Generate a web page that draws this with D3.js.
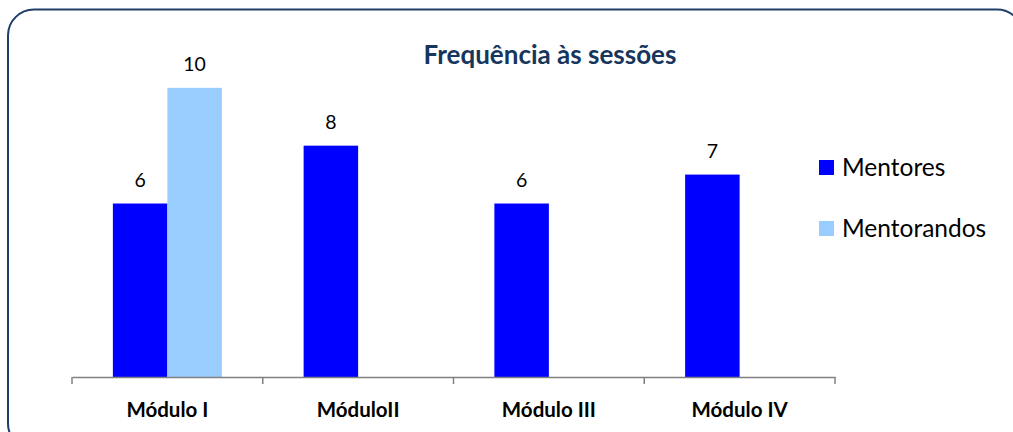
<!DOCTYPE html>
<html>
<head>
<meta charset="utf-8">
<script src="https://cdn.jsdelivr.net/npm/d3@7"></script>
<style>
  body { margin: 0; background: #fff; }
  svg { display: block; font-family: Lato, "Open Sans", sans-serif; }
</style>
</head>
<body>
<div id="chart"></div>
<script>
let categories = ["Módulo I", "MóduloII", "Módulo III", "Módulo IV"];
let seriesNames = ["Mentores", "Mentorandos"];
let mentores = [6, 8, 6, 7];
let mentorandos = [10, null, null, null];
let colors = ["#0000ff", "#99ccff"];

let width = 1013, height = 432;

let svg = d3.select("#chart").append("svg")
  .attr("width", width)
  .attr("height", height);

// rounded frame, runs off the right and bottom edge
svg.append("rect")
  .attr("x", 8).attr("y", 9.5)
  .attr("width", 1015).attr("height", 440)
  .attr("rx", 26).attr("ry", 26)
  .attr("fill", "none")
  .attr("stroke", "#1f3f66")
  .attr("stroke-width", 2);

let x = d3.scaleBand()
  .domain(categories)
  .range([72, 835])
  .paddingInner(0)
  .paddingOuter(0);

let x1 = d3.scaleBand()
  .domain(seriesNames)
  .range([0, x.bandwidth()])
  .paddingOuter(0.75)
  .paddingInner(0);

let y = d3.scaleLinear()
  .domain([0, 12])
  .range([377, 30]);

let rows = categories.map((c, i) => [
  {cat: c, s: "Mentores", v: mentores[i]},
  {cat: c, s: "Mentorandos", v: mentorandos[i]}
]);

let group = svg.selectAll("g.grp")
  .data(rows)
  .enter().append("g")
  .attr("class", "grp")
  .attr("transform", (d, i) => "translate(" + x(categories[i]) + ",0)");

let bars = group.selectAll("g.bar")
  .data(d => d.filter(e => e.v != null))
  .enter().append("g")
  .attr("class", "bar");

bars.append("rect")
  .attr("x", d => x1(d.s))
  .attr("y", d => y(d.v))
  .attr("width", x1.bandwidth())
  .attr("height", d => y(0) - y(d.v))
  .attr("fill", d => colors[seriesNames.indexOf(d.s)]);

bars.append("text")
  .attr("x", d => x1(d.s) + x1.bandwidth() / 2)
  .attr("y", d => y(d.v) - 17)
  .attr("text-anchor", "middle")
  .attr("font-size", 19.5)
  .attr("fill", "#000")
  .text(d => d.v);

// category axis
let axis = svg.append("g")
  .attr("transform", "translate(0," + y(0) + ")")
  .call(d3.axisBottom(x).tickSize(0).tickFormat(""));
axis.select(".domain").attr("stroke", "#808080").attr("stroke-width", 1.5);

let tickPos = categories.map(c => x(c)).concat([x.range()[1]]);
axis.selectAll("line.tk")
  .data(tickPos)
  .enter().append("line")
  .attr("class", "tk")
  .attr("x1", d => d).attr("x2", d => d)
  .attr("y1", 0).attr("y2", 7)
  .attr("stroke", "#808080")
  .attr("stroke-width", 1.5);

svg.selectAll("text.cat")
  .data(categories)
  .enter().append("text")
  .attr("class", "cat")
  .attr("x", d => x(d) + x.bandwidth() / 2)
  .attr("y", 417)
  .attr("text-anchor", "middle")
  .attr("font-size", 20.5)
  .attr("font-weight", "bold")
  .attr("fill", "#000")
  .text(d => d);

// title
svg.append("text")
  .attr("x", 550)
  .attr("y", 64)
  .attr("text-anchor", "middle")
  .attr("font-size", 26)
  .attr("font-weight", "bold")
  .attr("fill", "#17365d")
  .text("Frequência às sessões");

// legend
let legend = svg.selectAll("g.leg")
  .data(seriesNames)
  .enter().append("g")
  .attr("class", "leg")
  .attr("transform", (d, i) => "translate(819," + (160 + i * 61) + ")");

legend.append("rect")
  .attr("width", 15).attr("height", 15)
  .attr("fill", (d, i) => colors[i]);

legend.append("text")
  .attr("x", 23)
  .attr("y", 16)
  .attr("font-size", 24.5)
  .attr("fill", "#000")
  .text(d => d);
</script>
</body>
</html>
